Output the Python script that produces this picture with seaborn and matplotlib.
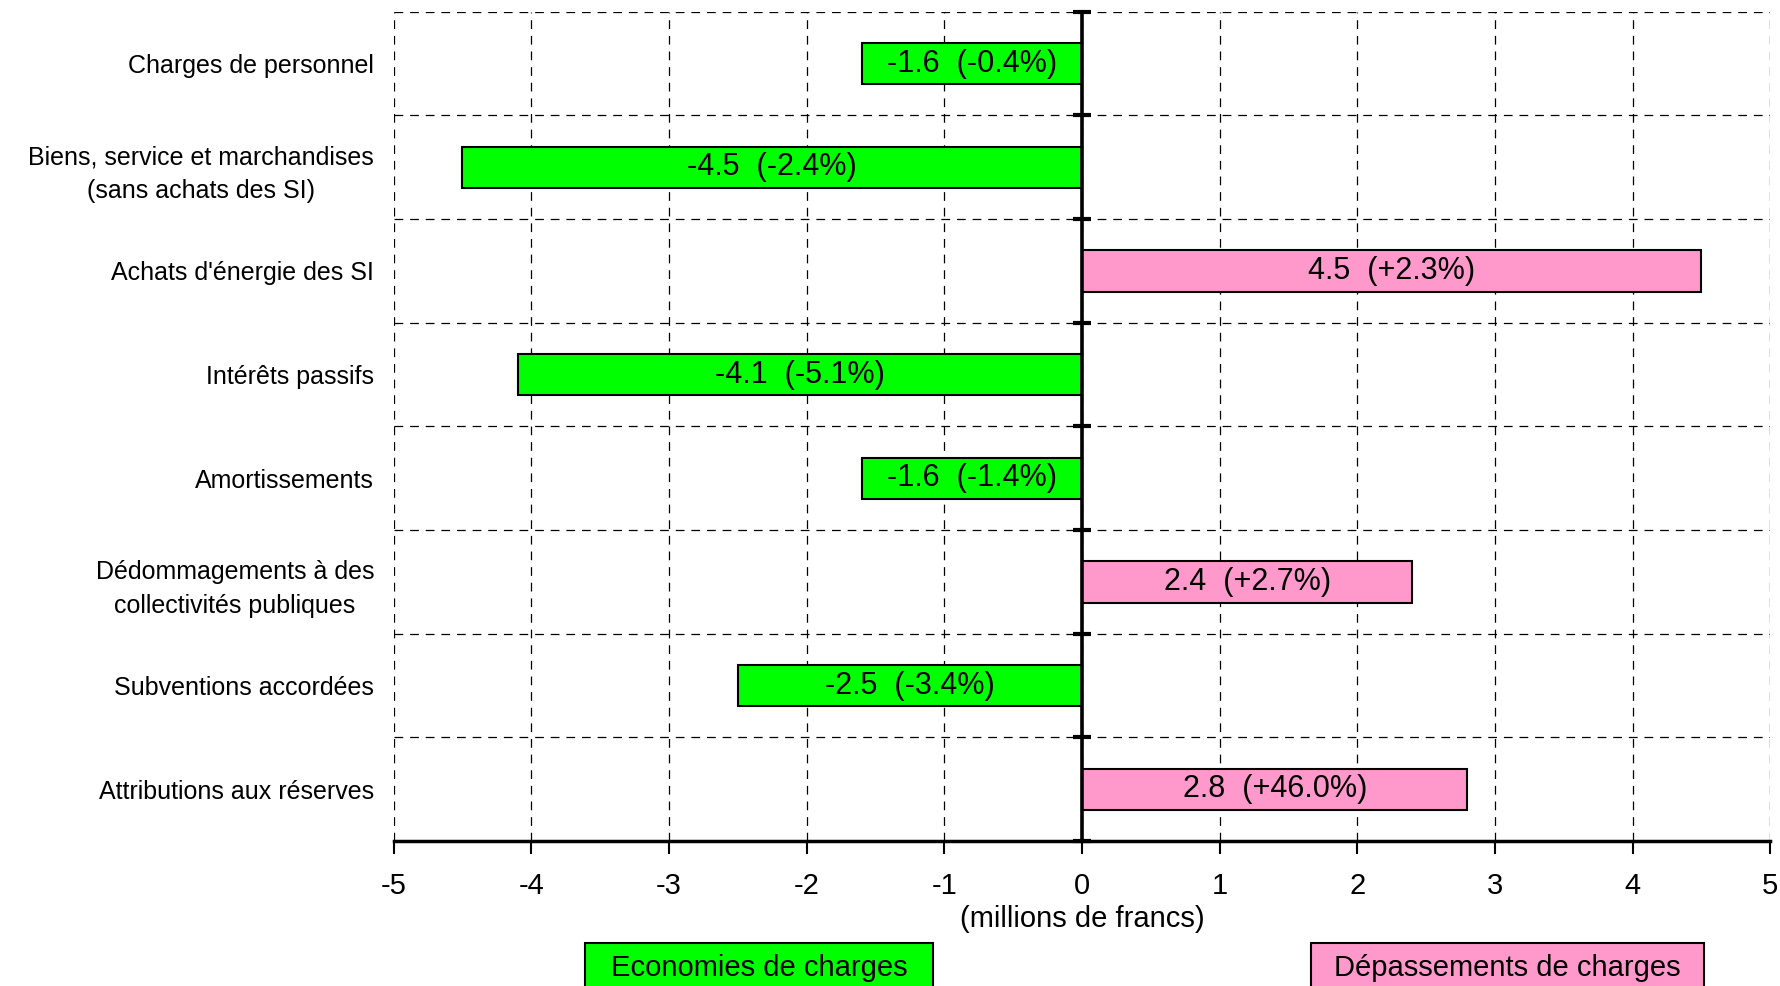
import pandas as pd
import matplotlib.pyplot as plt
import seaborn as sns
from matplotlib.patches import Rectangle

# --- DATA ---
POSTES = [
    "Charges de personnel",
    "Biens, service et marchandises\n(sans achats des SI)",
    "Achats d'énergie des SI",
    "Intérêts passifs",
    "Amortissements",
    "Dédommagements à des\ncollectivités publiques",
    "Subventions accordées",
    "Attributions aux réserves",
]
ECARTS = [-1.6, -4.5, 4.5, -4.1, -1.6, 2.4, -2.5, 2.8]
POURCENTS = ["-0.4%", "-2.4%", "+2.3%", "-5.1%", "-1.4%", "+2.7%", "-3.4%", "+46.0%"]
X_TICKS = [-5, -4, -3, -2, -1, 0, 1, 2, 3, 4, 5]

VERT = "#00FF00"
ROSE = "#FF99CC"


def main():
    df = pd.DataFrame({"poste": POSTES, "ecart": ECARTS, "pct": POURCENTS})
    df["signe"] = ["eco" if v < 0 else "dep" for v in df["ecart"]]

    sns.set_style("white")
    plt.rcParams["font.family"] = ["Liberation Sans", "DejaVu Sans"]
    plt.rcParams["text.color"] = "black"
    plt.rcParams["axes.labelcolor"] = "black"
    plt.rcParams["xtick.color"] = "black"
    plt.rcParams["ytick.color"] = "black"

    fig = plt.figure(figsize=(17.81, 9.86), dpi=100)
    ax = fig.add_axes([0.221, 0.147, 0.773, 0.841])

    sns.barplot(data=df, x="ecart", y="poste", hue="signe", order=POSTES,
                palette={"eco": VERT, "dep": ROSE}, dodge=False, width=0.4,
                saturation=1, edgecolor="black", linewidth=1.5, legend=False,
                ax=ax, zorder=3)

    # labels in the bars
    for i, row in df.iterrows():
        txt = f"{row['ecart']:.1f}  ({row['pct']})"
        ax.text(row["ecart"] / 2, i, txt, ha="center", va="center",
                fontsize=22, color="black", zorder=5)

    n = len(POSTES)
    ax.set_xlim(-5, 5)
    ax.set_ylim(n - 0.5, -0.5)
    ax.set_xticks(X_TICKS)
    ax.set_xticklabels([str(t) for t in X_TICKS])
    bounds = [k - 0.5 for k in range(n + 1)]
    ax.set_yticks(bounds, minor=True)

    dash = (0, (7, 5.5))
    ax.grid(axis="x", which="major", color="black", linestyle=dash, lw=0.9)
    ax.grid(axis="y", which="minor", color="black", linestyle=dash, lw=0.9)
    ax.grid(axis="y", which="major", visible=False)
    ax.set_axisbelow(True)

    for s in ["left", "top", "right"]:
        ax.spines[s].set_visible(False)
    ax.spines["bottom"].set_color("black")
    ax.spines["bottom"].set_linewidth(2.5)

    # zero axis with small ticks at category bounds
    ax.axvline(0, color="black", lw=2.6, zorder=4)
    ax.plot([0] * len(bounds), bounds, ls="none", marker="_", ms=13, mew=3,
            color="black", zorder=4, clip_on=False)

    ax.tick_params(axis="x", direction="out", length=9, width=1.5,
                   pad=13, labelsize=21, bottom=True)
    ax.tick_params(axis="y", which="both", length=0, pad=14, labelsize=18)
    for lab in ax.get_yticklabels():
        lab.set_multialignment("center")
        lab.set_linespacing(1.5)

    ax.set_xlabel("(millions de francs)", fontsize=21, labelpad=4)
    ax.set_ylabel("")

    # legend boxes at bottom
    W, H = 1781, 986
    boxes = [(585, 933, VERT, "Economies de charges"),
             (1311, 1704, ROSE, "Dépassements de charges")]
    for x0, x1, col, lab in boxes:
        fig.patches.append(Rectangle((x0 / W, -0.02), (x1 - x0) / W, (H - 943) / H + 0.02,
                                     transform=fig.transFigure, facecolor=col,
                                     edgecolor="black", lw=1.5))
        fig.text((x0 + x1) / 2 / W, 1 - 968 / H, lab, ha="center", va="center",
                 fontsize=21)

    fig.savefig("out.png", dpi=100)


if __name__ == "__main__":
    main()
